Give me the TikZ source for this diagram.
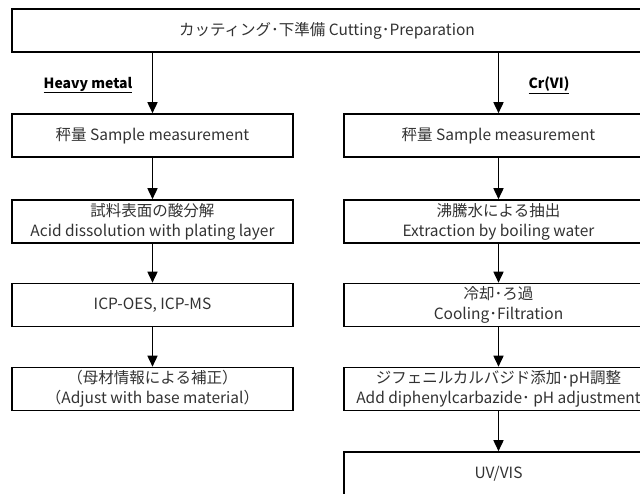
\documentclass[tikz,border=0pt]{standalone}
\usepackage{fontspec}
\setmainfont{Noto Sans CJK JP}
\usetikzlibrary{arrows.meta}
\definecolor{txt}{RGB}{50,50,50}
\tikzset{
  box/.style={draw=black, line width=1.6pt, rectangle, minimum height=43pt, inner sep=0pt, align=center, text=txt, font=\fontsize{15.5}{20}\selectfont},
  lbox/.style={box, minimum width=281pt},
  rbox/.style={box, minimum width=309pt},
  flow/.style={draw=black, line width=1.6pt, -{Triangle[length=11pt,width=10pt]}},
  lab/.style={font=\fontsize{14}{16}\selectfont\bfseries, text=black}
}
\begin{document}
\begin{tikzpicture}[x=1pt,y=-1pt]
\useasboundingbox (0,0) rectangle (640,493);
\clip (0,0) rectangle (640,493);
\node[box, minimum width=630pt] (top) at (327,30.5) {カッティング･下準備 Cutting･Preparation};
\node[lab] (hm) at (88,85) {\underline{Heavy metal}};
\node[lab] (cr) at (549,85) {\underline{Cr(VI)}};
\node[lbox] (L1) at (152.5,135.5) {秤量 Sample measurement};
\node[lbox] (L2) at (152.5,221.5) {試料表面の酸分解\\Acid dissolution with plating layer};
\node[lbox] (L3) at (152.5,305) {ICP-OES, ICP-MS};
\node[lbox] (L4) at (152.5,389) {（母材情報による補正）\\（Adjust with base material）};
\node[rbox] (R1) at (498.5,135.5) {秤量 Sample measurement};
\node[rbox] (R2) at (498.5,221.5) {沸騰水による抽出\\Extraction by boiling water};
\node[rbox] (R3) at (498.5,305) {冷却･ろ過\\Cooling･Filtration};
\node[rbox] (R4) at (498.5,389) {ジフェニルカルバジド添加･pH調整\\Add diphenylcarbazide･ pH adjustment};
\node[rbox] (R5) at (498.5,473.5) {UV/VIS};
\draw[flow] (top.south -| L1.north) -- (L1.north);
\draw[flow] (top.south -| R1.north) -- (R1.north);
\draw[flow] (L1) -- (L2);
\draw[flow] (L2) -- (L3);
\draw[flow] (L3) -- (L4);
\draw[flow] (R1) -- (R2);
\draw[flow] (R2) -- (R3);
\draw[flow] (R3) -- (R4);
\draw[flow] (R4) -- (R5);
\end{tikzpicture}
\end{document}
